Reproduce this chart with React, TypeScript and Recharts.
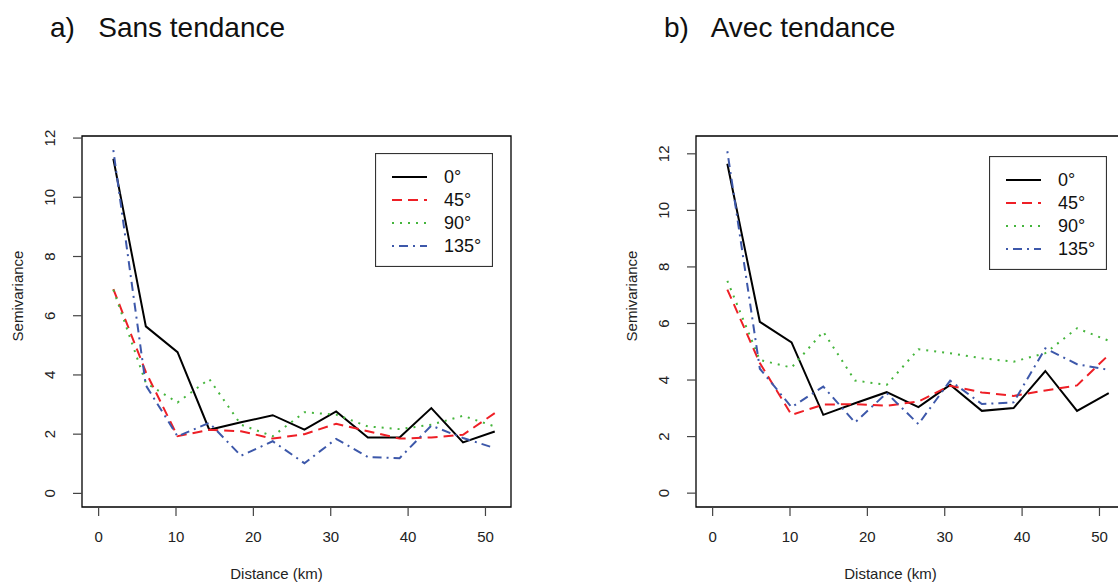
import { LineChart, Line, XAxis, YAxis, ReferenceArea, Legend } from 'recharts';

const distances = [1.9, 6.1, 10.2, 14.3, 18.4, 22.5, 26.6, 30.7, 34.8, 38.9, 43.0, 47.1, 51.2];
const xTicks = [0, 10, 20, 30, 40, 50];
const yTicks = [0, 2, 4, 6, 8, 10, 12];
const angleLabels = ['0°', '45°', '90°', '135°'];

// a) Sans tendance
const sans0 = [11.3, 5.64, 4.77, 2.15, 2.4, 2.64, 2.15, 2.77, 1.89, 1.89, 2.88, 1.72, 2.09];
const sans45 = [6.9, 4.1, 1.93, 2.15, 2.1, 1.85, 2.0, 2.35, 2.1, 1.85, 1.89, 1.98, 2.71];
const sans90 = [6.88, 3.73, 3.07, 3.86, 2.32, 1.93, 2.74, 2.66, 2.26, 2.17, 2.32, 2.62, 2.26];
const sans135 = [11.59, 3.65, 1.93, 2.38, 1.27, 1.76, 1.02, 1.84, 1.23, 1.19, 2.29, 1.87, 1.53];

// b) Avec tendance
const avec0 = [11.65, 6.06, 5.33, 2.77, 3.18, 3.57, 3.04, 3.83, 2.91, 3.01, 4.32, 2.91, 3.54];
const avec45 = [7.2, 4.6, 2.77, 3.13, 3.15, 3.09, 3.24, 3.8, 3.56, 3.44, 3.63, 3.81, 4.89];
const avec90 = [7.51, 4.71, 4.44, 5.71, 3.98, 3.83, 5.09, 4.95, 4.77, 4.65, 4.95, 5.83, 5.39];
const avec135 = [12.09, 4.4, 3.04, 3.77, 2.5, 3.54, 2.44, 3.98, 3.15, 3.21, 5.12, 4.56, 4.36];

const FONT = '"Liberation Sans", Arial, Helvetica, sans-serif';
const X_DOMAIN: [number, number] = [-2.15, 53.3];

const seriesStyles = [
  { key: 'a0', color: '#000000', dash: undefined as string | undefined },
  { key: 'a45', color: '#ee1f26', dash: '10 6' },
  { key: 'a90', color: '#45b53c', dash: '2 6' },
  { key: 'a135', color: '#3d58aa', dash: '2 5 9 5' },
];

const buildRows = (s0: number[], s45: number[], s90: number[], s135: number[]) =>
  distances.map((d, i) => ({ d, a0: s0[i], a45: s45[i], a90: s90[i], a135: s135[i] }));

const XTick = (props: any) => {
  const { x, y, payload } = props;
  return (
    <text x={x} y={y + 11} textAnchor="middle" fontSize={15} fill="#222" fontFamily={FONT}>
      {payload.value}
    </text>
  );
};

const YTick = (props: any) => {
  const { x, y, payload } = props;
  return (
    <text
      x={x}
      y={y}
      transform={`rotate(-90 ${x} ${y})`}
      textAnchor="middle"
      fontSize={15}
      fill="#222"
      fontFamily={FONT}
    >
      {payload.value}
    </text>
  );
};

const AngleLegend = (props: any) => {
  const items = [...(props.payload || [])].sort(
    (a: any, b: any) =>
      seriesStyles.findIndex((s) => s.key === a.dataKey) - seriesStyles.findIndex((s) => s.key === b.dataKey)
  );
  return (
    <svg width={118} height={114} style={{ display: 'block' }}>
      <rect x={0.5} y={0.5} width={117} height={113} fill="#fff" stroke="#333" strokeWidth={1.2} />
      {items.map((entry: any, i: number) => {
        const st = seriesStyles.find((s) => s.key === entry.dataKey) || seriesStyles[i];
        const ly = 24 + 23 * i;
        return (
          <g key={i}>
            <line x1={17} x2={52} y1={ly} y2={ly} stroke={st.color} strokeWidth={2} strokeDasharray={st.dash} />
            <text x={69} y={ly + 6} fontSize={18} fill="#111" fontFamily={FONT}>
              {entry.value}
            </text>
          </g>
        );
      })}
    </svg>
  );
};

type PanelProps = {
  left: number;
  title: string;
  rows: any[];
  yDomain: [number, number];
  legendTop: number;
};

function VariogramPanel({ left, title, rows, yDomain, legendTop }: PanelProps) {
  return (
    <div style={{ position: 'absolute', left, top: 0, width: 559, height: 584 }}>
      <div
        style={{
          position: 'absolute',
          left: 50,
          top: 14,
          fontFamily: FONT,
          fontSize: 28,
          lineHeight: '28px',
          whiteSpace: 'pre',
          color: '#111',
        }}
      >
        {title}
      </div>
      <LineChart
        width={559}
        height={584}
        data={rows}
        margin={{ top: 136, right: 48, bottom: 37, left: 0 }}
        style={{ position: 'absolute', left: 0, top: 0 }}
      >
        <XAxis
          type="number"
          dataKey="d"
          domain={X_DOMAIN}
          ticks={xTicks}
          allowDataOverflow
          axisLine={false}
          tickSize={9}
          tickMargin={15}
          tickLine={{ stroke: '#444', strokeWidth: 1.2 }}
          tick={<XTick />}
          height={40}
          label={{
            content: (p: any) => {
              const vb = p.viewBox || {};
              return (
                <text
                  x={vb.x + vb.width / 2 - 20}
                  y={579}
                  textAnchor="middle"
                  fontSize={15}
                  fill="#222"
                  fontFamily={FONT}
                >
                  Distance (km)
                </text>
              );
            },
          }}
        />
        <YAxis
          type="number"
          domain={yDomain}
          ticks={yTicks}
          allowDataOverflow
          axisLine={false}
          tickSize={9}
          tickMargin={18}
          tickLine={{ stroke: '#444', strokeWidth: 1.2 }}
          tick={<YTick />}
          width={82}
          label={{
            content: () => (
              <text
                x={23}
                y={296}
                transform="rotate(-90 23 296)"
                textAnchor="middle"
                fontSize={15}
                fill="#222"
                fontFamily={FONT}
              >
                Semivariance
              </text>
            ),
          }}
        />
        <ReferenceArea
          x1={X_DOMAIN[0]}
          x2={X_DOMAIN[1]}
          y1={yDomain[0]}
          y2={yDomain[1]}
          fill="none"
          fillOpacity={0}
          stroke="#000"
          strokeWidth={1.3}
        />
        {seriesStyles.map((s, i) => (
          <Line
            key={s.key}
            type="linear"
            dataKey={s.key}
            name={angleLabels[i]}
            stroke={s.color}
            strokeWidth={2}
            strokeDasharray={s.dash}
            dot={false}
            activeDot={false}
            isAnimationActive={false}
          />
        ))}
        <Legend
          layout="vertical"
          align="center"
          verticalAlign="middle"
          content={<AngleLegend />}
          wrapperStyle={{ left: 375, top: legendTop, width: 118, height: 114 }}
        />
      </LineChart>
    </div>
  );
}

export default function App() {
  return (
    <div
      style={{
        position: 'absolute',
        left: 0,
        top: 0,
        width: 1118,
        height: 584,
        overflow: 'hidden',
        background: '#fff',
      }}
    >
      <VariogramPanel
        left={0}
        title="a)   Sans tendance"
        rows={buildRows(sans0, sans45, sans90, sans135)}
        yDomain={[-0.46, 12.07]}
        legendTop={153}
      />
      <VariogramPanel
        left={614}
        title="b)   Avec tendance"
        rows={buildRows(avec0, avec45, avec90, avec135)}
        yDomain={[-0.49, 12.63]}
        legendTop={156}
      />
    </div>
  );
}
